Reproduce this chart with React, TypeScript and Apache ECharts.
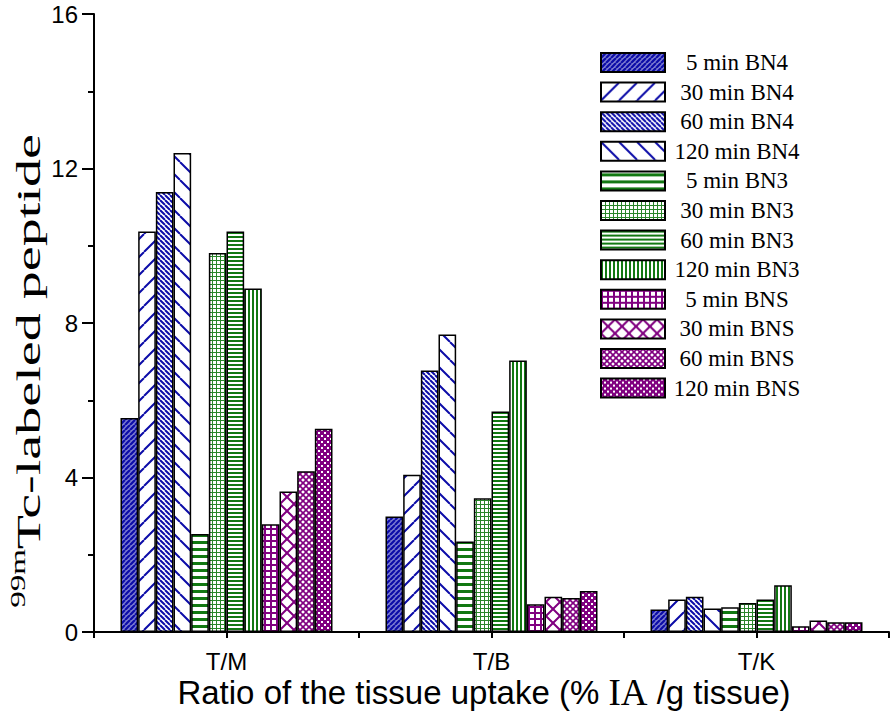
import React, { useEffect, useRef } from "react";
import * as echarts from "echarts";

const categories = ["T/M", "T/B", "T/K"];
const seriesNames = [
  "5 min BN4", "30 min BN4", "60 min BN4", "120 min BN4",
  "5 min BN3", "30 min BN3", "60 min BN3", "120 min BN3",
  "5 min BNS", "30 min BNS", "60 min BNS", "120 min BNS",
];
const bn4_5 = [5.54, 2.99, 0.58];
const bn4_30 = [10.37, 4.07, 0.84];
const bn4_60 = [11.39, 6.77, 0.91];
const bn4_120 = [12.4, 7.7, 0.61];
const bn3_5 = [2.54, 2.34, 0.64];
const bn3_30 = [9.81, 3.46, 0.75];
const bn3_60 = [10.37, 5.71, 0.84];
const bn3_120 = [8.89, 7.03, 1.21];
const bns_5 = [2.79, 0.72, 0.15];
const bns_30 = [3.64, 0.91, 0.3];
const bns_60 = [4.16, 0.88, 0.25];
const bns_120 = [5.26, 1.06, 0.25];
const seriesValues = [
  bn4_5, bn4_30, bn4_60, bn4_120,
  bn3_5, bn3_30, bn3_60, bn3_120,
  bns_5, bns_30, bns_60, bns_120,
];
const yTicks = [0, 4, 8, 12, 16];

const BLUE = "#0c0ca8";
const GREEN = "#127812";
const PURPLE = "#800080";
const SANS = "'Liberation Sans', Arial, sans-serif";
const SERIF = "'Liberation Serif', 'Times New Roman', serif";

type Draw = (ctx: CanvasRenderingContext2D, s: number) => void;

function tile(s: number, bg: string, draw: Draw) {
  const c = document.createElement("canvas");
  c.width = s;
  c.height = s;
  const ctx = c.getContext("2d") as CanvasRenderingContext2D;
  ctx.fillStyle = bg;
  ctx.fillRect(0, 0, s, s);
  draw(ctx, s);
  return { image: c, repeat: "repeat" };
}

function hatch(dir: "/" | "\\", color: string, w: number): Draw {
  return (ctx, s) => {
    ctx.strokeStyle = color;
    ctx.lineWidth = w;
    ctx.beginPath();
    for (let k = -1; k <= 1; k++) {
      if (dir === "/") {
        ctx.moveTo(k * s, s);
        ctx.lineTo(k * s + s, 0);
      } else {
        ctx.moveTo(k * s, 0);
        ctx.lineTo(k * s + s, s);
      }
    }
    ctx.stroke();
  };
}

function cross(color: string, w: number): Draw {
  return (ctx, s) => {
    hatch("/", color, w)(ctx, s);
    hatch("\\", color, w)(ctx, s);
  };
}

function makePatterns() {
  return [
    tile(5, "#7c7cd0", hatch("/", BLUE, 2.2)),
    tile(18, "#ffffff", hatch("/", BLUE, 2)),
    tile(5, "#ffffff", hatch("\\", BLUE, 2)),
    tile(18, "#ffffff", hatch("\\", BLUE, 2)),
    tile(7, "#ffffff", (ctx, s) => { ctx.fillStyle = GREEN; ctx.fillRect(0, 2, s, 3); }),
    tile(4, "#ffffff", (ctx, s) => { ctx.fillStyle = "#2a852a"; ctx.fillRect(0, 0, s, 1); ctx.fillRect(0, 0, 1, s); }),
    tile(4, "#ffffff", (ctx, s) => { ctx.fillStyle = GREEN; ctx.fillRect(0, 0, s, 2); }),
    tile(4, "#ffffff", (ctx, s) => { ctx.fillStyle = GREEN; ctx.fillRect(0, 0, 2, s); }),
    tile(6, "#ffffff", (ctx, s) => { ctx.fillStyle = PURPLE; ctx.fillRect(0, 0, s, 2); ctx.fillRect(0, 0, 2, s); }),
    tile(14, "#ffffff", cross(PURPLE, 2)),
    tile(6, "#ffffff", cross(PURPLE, 1.6)),
    tile(6, PURPLE, (ctx) => { ctx.fillStyle = "#ffffff"; ctx.fillRect(0, 0, 2, 2); ctx.fillRect(3, 3, 2, 2); }),
  ];
}

export default function App() {
  const ref = useRef<HTMLDivElement>(null);
  useEffect(() => {
    if (!ref.current) return;
    const chart = echarts.init(ref.current, null, { renderer: "svg" });
    const patterns = makePatterns();
    const tickStyle = { color: "#000", width: 2 };
    const option: any = {
      animation: false,
      backgroundColor: "#ffffff",
      grid: { left: 94, right: 5, top: 14, bottom: 80, containLabel: false },
      legend: {
        show: true,
        orient: "vertical",
        left: 600,
        top: 51,
        padding: 0,
        itemWidth: 64,
        itemHeight: 19,
        itemGap: 6.6,
        itemTextGap: 5,
        icon: "rect",
        selectedMode: false,
        data: seriesNames,
        formatter: "{c|{name}}",
        textStyle: {
          fontFamily: SERIF,
          fontSize: 23,
          color: "#000",
          rich: {
            c: { width: 134, align: "center", fontFamily: SERIF, fontSize: 23, lineHeight: 20, color: "#000" },
          },
        },
      },
      xAxis: [
        {
          type: "category",
          data: categories,
          axisLine: { show: true, lineStyle: { color: "#000", width: 2 } },
          axisTick: { show: true, alignWithLabel: true, length: 6, lineStyle: tickStyle },
          axisLabel: { color: "#000", fontFamily: SANS, fontSize: 24, margin: 18, lineHeight: 22 },
          splitLine: { show: false },
        },
        {
          type: "category",
          data: categories,
          position: "bottom",
          axisLine: { show: false },
          axisTick: { show: true, length: 6, lineStyle: tickStyle },
          axisLabel: { show: false },
          splitLine: { show: false },
        },
      ],
      yAxis: {
        type: "value",
        min: yTicks[0],
        max: yTicks[yTicks.length - 1],
        interval: 4,
        axisLine: { show: true, lineStyle: { color: "#000", width: 2 } },
        axisTick: { show: true, length: 12, lineStyle: tickStyle },
        minorTick: { show: true, splitNumber: 2, length: 6, lineStyle: tickStyle },
        axisLabel: { color: "#000", fontFamily: SANS, fontSize: 24, margin: 16 },
        splitLine: { show: false },
      },
      graphic: [
        {
          type: "text",
          x: 484,
          y: 692,
          style: {
            text: "{a|Ratio of the tissue uptake (% }{b|IA}{a| /g tissue)}",
            textAlign: "center",
            textVerticalAlign: "middle",
            rich: {
              a: { fontFamily: SANS, fontSize: 33, fill: "#000", color: "#000", lineHeight: 28 },
              b: { fontFamily: SERIF, fontSize: 37, fill: "#000", color: "#000", lineHeight: 28 },
            },
          },
        },
        {
          type: "text",
          x: 27,
          y: 371,
          rotation: Math.PI / 2,
          scaleX: 1.65,
          scaleY: 1,
          style: {
            text: "{s|99m}{t|Tc-labeled peptide}",
            textAlign: "center",
            textVerticalAlign: "middle",
            rich: {
              s: { fontFamily: SERIF, fontSize: 20, verticalAlign: "top", fill: "#000", color: "#000", lineHeight: 38 },
              t: { fontFamily: SERIF, fontSize: 34, verticalAlign: "bottom", fill: "#000", color: "#000", lineHeight: 38 },
            },
          },
        },
      ],
      series: seriesNames.map((name, i) => ({
        name,
        type: "bar",
        xAxisIndex: 0,
        data: seriesValues[i],
        barGap: "0%",
        barCategoryGap: "20%",
        itemStyle: { color: patterns[i], borderColor: "#000", borderWidth: 1.5 },
        emphasis: { disabled: true },
      })),
    };
    chart.setOption(option);
    return () => chart.dispose();
  }, []);
  return (
    <div
      ref={ref}
      style={{ position: "fixed", left: 0, top: 0, width: 894, height: 712, background: "#fff" }}
    />
  );
}
